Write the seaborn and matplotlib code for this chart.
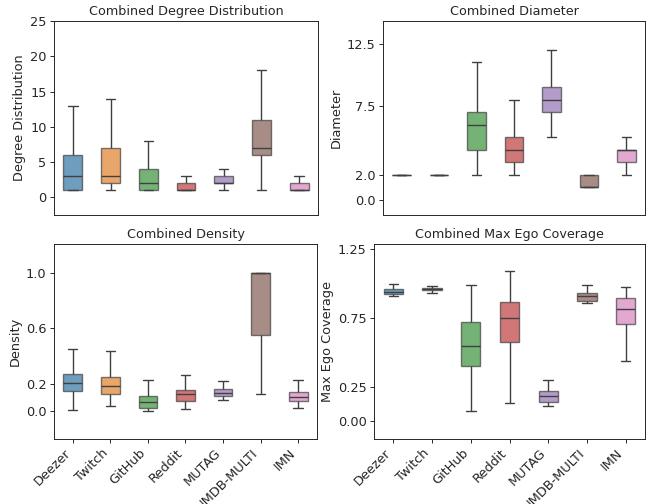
import numpy as np
import pandas as pd
import matplotlib
matplotlib.use('Agg')
import matplotlib.pyplot as plt
import seaborn as sns

datasets = ['Deezer', 'Twitch', 'GitHub', 'Reddit', 'MUTAG', 'IMDB-MULTI', 'IMN']

# five-number summaries per dataset: min, q1, median, q3, max
degree_stats = [[1, 1, 3, 6, 13], [1, 2, 3, 7, 14], [1, 1, 2, 4, 8], [1, 1, 1, 2, 3],
                [1, 2, 2, 3, 4], [1, 6, 7, 11, 18], [1, 1, 1, 2, 3]]
diameter_stats = [[2, 2, 2, 2, 2], [2, 2, 2, 2, 2], [2, 4, 6, 7, 11], [2, 3, 4, 5, 8],
                  [5, 7, 8, 9, 12], [1, 1, 1, 2, 2], [2, 3, 4, 4, 5]]
density_stats = [[0.012, 0.15, 0.205, 0.27, 0.452], [0.038, 0.127, 0.183, 0.25, 0.433],
                 [0.0, 0.026, 0.067, 0.108, 0.23], [0.017, 0.077, 0.127, 0.151, 0.262],
                 [0.079, 0.108, 0.132, 0.161, 0.219], [0.125, 0.555, 1.0, 1.0, 1.0],
                 [0.026, 0.077, 0.101, 0.142, 0.23]]
ego_stats = [[0.907, 0.924, 0.94, 0.958, 0.995], [0.929, 0.948, 0.958, 0.968, 0.98],
             [0.075, 0.403, 0.545, 0.72, 0.987], [0.134, 0.572, 0.75, 0.867, 1.09],
             [0.111, 0.138, 0.179, 0.218, 0.30], [0.856, 0.873, 0.905, 0.931, 0.987],
             [0.435, 0.707, 0.815, 0.895, 0.975]]

panels = [
    ('Combined Degree Distribution', 'Degree Distribution', degree_stats, [0, 5, 10, 15, 20, 25], (-2.5, 25)),
    ('Combined Diameter', 'Diameter', diameter_stats, [0.0, 2.0, 7.5, 12.5], (-1.2, 14.3)),
    ('Combined Density', 'Density', density_stats, [0.0, 0.2, 0.6, 1.0], (-0.2, 1.21)),
    ('Combined Max Ego Coverage', 'Max Ego Coverage', ego_stats, [0.00, 0.25, 0.75, 1.25], (-0.13, 1.285)),
]

positions = [[0.0829, 0.5734, 0.4055, 0.3849], [0.5883, 0.5734, 0.4025, 0.3849],
             [0.0829, 0.1290, 0.4040, 0.3869], [0.5745, 0.1290, 0.4163, 0.3869]]

sns.set_style('white')
fig, axes = plt.subplots(2, 2, figsize=(6.51, 5.04), dpi=100)
palette = sns.color_palette('tab10', len(datasets))

for i, (ax, (title, ylabel, stats, ticks, ylim)) in enumerate(zip(axes.flat, panels)):
    rows = [(d, v) for d, vals in zip(datasets, stats) for v in vals]
    df = pd.DataFrame(rows, columns=['Dataset', 'Value'])
    sns.boxplot(data=df, x='Dataset', y='Value', hue='Dataset', palette=palette,
                order=datasets, hue_order=datasets, width=0.5, whis=(0, 100),
                showfliers=False, legend=False, linecolor='0.25', linewidth=1.0,
                boxprops=dict(alpha=0.7), ax=ax)
    ax.set_title(title, fontsize=9.2, pad=4.5)
    ax.set_ylabel(ylabel, fontsize=9.3, labelpad=3)
    ax.set_xlabel('')
    ax.set_yticks(ticks)
    ax.set_ylim(*ylim)
    ax.tick_params(axis='y', left=True, labelsize=9.3, length=2.8, width=0.7, pad=2.5)
    for s in ax.spines.values():
        s.set_color('0.15')
        s.set_linewidth(0.7)
    if i < 2:
        ax.set_xticks([])
    else:
        ax.tick_params(axis='x', bottom=True, labelsize=9.3, length=2.8, width=0.7, pad=2.5)
        ax.set_xticks(range(len(datasets)))
        ax.set_xticklabels(datasets, rotation=45, ha='right')
    ax.set_position(positions[i])

fig.savefig('out.png', dpi=100)
